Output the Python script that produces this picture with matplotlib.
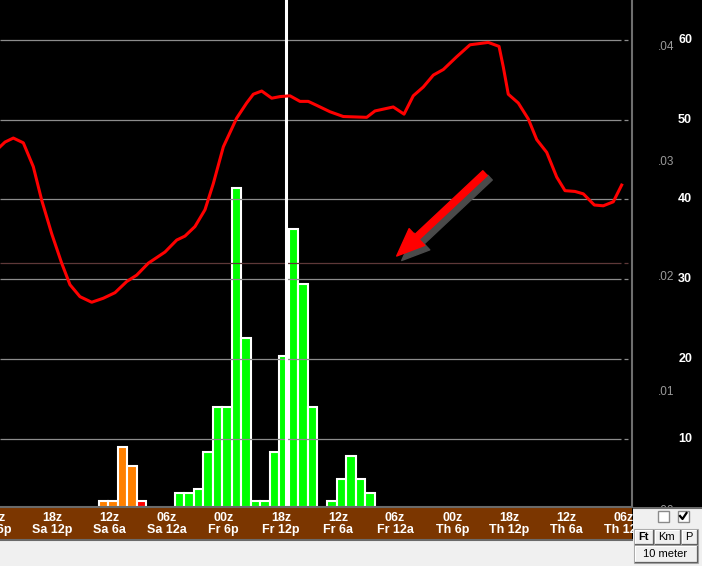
import matplotlib.pyplot as plt
import numpy as np
from matplotlib import transforms
from matplotlib.patches import Rectangle, FancyArrowPatch

# x is in hours counted from the left edge of the plot
line_hours = [0, 0.53, 1.40, 2.45, 3.50, 4.38, 5.43, 6.48, 7.35, 8.40,
              9.63, 10.85, 12.08, 13.31, 14.36, 15.58, 17.33, 18.56, 19.43, 20.48,
              21.53, 22.41, 23.46, 24.86, 25.91, 26.61, 27.49, 28.54, 29.41, 30.46,
              31.51, 32.38, 33.27, 34.66, 36.06, 38.52, 39.39, 41.31, 42.44, 43.41,
              44.46, 45.52, 46.57, 47.97, 49.37, 51.29, 52.42, 52.87, 53.39, 54.44,
              55.49, 56.38, 57.43, 58.48, 59.35, 60.40, 61.27, 62.43, 63.37, 64.42,
              65.30]
line_values = [46.6, 47.2, 47.7, 47.1, 44.1, 39.9, 35.7, 32.0, 29.3, 27.8,
               27.1, 27.6, 28.3, 29.7, 30.5, 32.0, 33.4, 34.9, 35.4, 36.6,
               38.7, 42.0, 46.6, 50.2, 52.1, 53.2, 53.6, 52.7, 52.9, 53.0,
               52.3, 52.3, 51.8, 51.0, 50.4, 50.3, 51.1, 51.6, 50.7, 53.0,
               54.1, 55.6, 56.3, 57.9, 59.4, 59.7, 59.2, 56.6, 53.2, 52.1,
               50.1, 47.5, 45.9, 42.8, 41.1, 41.0, 40.7, 39.3, 39.2, 39.7,
               41.8]

bar_start = 10.35
bar_values = [0.0005, 0.0005, 0.0052, 0.0036, 0.0005,
              0, 0, 0,
              0.0012, 0.0012, 0.0016, 0.0048, 0.0087, 0.0087, 0.0277, 0.0147,
              0.0005, 0.0005, 0.0048, 0.0131, 0.0242, 0.0194, 0.0087,
              0,
              0.0005, 0.0024, 0.0044, 0.0024, 0.0012]
bar_colors = ["#ff8000"] * 4 + ["#ff0000"] + ["#00ff00"] * 24

label_hours = [-0.5, 5.5, 11.5, 17.5, 23.5, 29.5, 35.5, 41.5, 47.5, 53.5, 59.5, 65.5]
zulu_labels = ["00z", "18z", "12z", "06z", "00z", "18z", "12z", "06z", "00z", "18z", "12z", "06z"]
local_labels = ["Sa 6p", "Sa 12p", "Sa 6a", "Sa 12a", "Fr 6p", "Fr 12p",
                "Fr 6a", "Fr 12a", "Th 6p", "Th 12p", "Th 6a", "Th 12a"]

snr_ticks = [10, 20, 30, 40, 50, 60]
prob_ticks = [0.00, 0.01, 0.02, 0.03, 0.04]
prob_labels = [".00", ".01", ".02", ".03", ".04"]
now_hour = 30.0
marker_level = 32.0
arrow_tail = (50.95, 43.3)
arrow_tip = (41.67, 32.9)

W, H = 702, 566
font = "Liberation Sans"

fig = plt.figure(figsize=(W / 100, H / 100), dpi=100, facecolor="black")

# bottom light strip
fig.patches.append(Rectangle((0, 0), 1, 26 / H, transform=fig.transFigure,
                             color="#f0f0f0", zorder=-1))

ax = fig.add_axes([0, 59 / H, 632 / W, 507 / H])
ax.set_facecolor("black")
xmax = 632 / 9.52
ax.set_xlim(0, xmax)
ax.set_ylim(0, 0.04409)

for i, (v, c) in enumerate(zip(bar_values, bar_colors)):
    if v > 0:
        ax.bar(bar_start + i, v, width=1.0, align="edge", color=c,
               edgecolor="white", linewidth=1.5, zorder=1)

ax2 = ax.twinx()
ax2.set_xlim(0, xmax)
ax2.set_ylim(1.41, 65.02)
ax2.patch.set_visible(False)

grid_end = 621 / 9.52
ax2.hlines(snr_ticks, 0, grid_end, color="#8c8c8c", linewidth=0.9, zorder=1)
ax2.hlines(snr_ticks, 65.5, 65.95, color="#8c8c8c", linewidth=0.9, zorder=1)
ax2.hlines([marker_level], 0, grid_end, color="#5e3838", linewidth=0.9, zorder=1)
ax2.hlines([marker_level], 65.5, 65.95, color="#5e3838", linewidth=0.9, zorder=1)

ax2.axvline(now_hour, color="white", linewidth=2.2, zorder=2)
ax2.plot(line_hours, line_values, color="#ff0000", linewidth=2.2, zorder=3)

shadow = transforms.ScaledTranslation(0.05, -0.045, fig.dpi_scale_trans)
style = "simple,head_length=2.0,head_width=1.65,tail_width=0.47"
ax2.add_patch(FancyArrowPatch(arrow_tail, arrow_tip, arrowstyle=style, mutation_scale=10,
                              color="#4a4a4a", shrinkA=0, shrinkB=0,
                              transform=ax2.transData + shadow, zorder=4))
ax2.add_patch(FancyArrowPatch(arrow_tail, arrow_tip, arrowstyle=style, mutation_scale=10,
                              color="#ff0000", shrinkA=0, shrinkB=0, zorder=5))

for a in (ax, ax2):
    a.tick_params(left=False, right=False, bottom=False, top=False,
                  labelleft=False, labelright=False, labelbottom=False)
    for s in a.spines.values():
        s.set_visible(False)
ax2.spines["right"].set_visible(True)
ax2.spines["right"].set_color("#6e6e6e")
ax2.spines["right"].set_linewidth(1.5)

# right-hand scales
tr2 = transforms.blended_transform_factory(ax2.transAxes, ax2.transData)
for v in snr_ticks:
    ax2.text(692 / 632, v, str(v), transform=tr2, ha="right", va="center",
             color="white", fontsize=9, fontweight="bold", family=font, clip_on=False)
tr1 = transforms.blended_transform_factory(ax.transAxes, ax.transData)
for v, lab in zip(prob_ticks, prob_labels):
    ax.text(674 / 632, v - 0.00035 * (v == 0), lab, transform=tr1, ha="right", va="center",
            color="#9a9a9a", fontsize=8.5, family=font, clip_on=False)

# time band
band = fig.add_axes([0, 26 / H, 632 / W, 33 / H])
band.set_facecolor("#7b3600")
band.set_xlim(0, xmax)
band.set_ylim(0, 1)
band.set_xticks([])
band.set_yticks([])
for s in ["left", "right"]:
    band.spines[s].set_visible(False)
for s in ["top", "bottom"]:
    band.spines[s].set_color("#6a6a6a")
    band.spines[s].set_linewidth(1.5)
for h, z, loc in zip(label_hours, zulu_labels, local_labels):
    band.text(h, 0.67, z, ha="center", va="center", color="white",
              fontsize=9, fontweight="bold", family=font)
    band.text(h, 0.29, loc, ha="center", va="center", color="white",
              fontsize=9, fontweight="bold", family=font)

# control panel in the bottom-right corner
ui = fig.add_axes([633 / W, 0, 69 / W, 59 / H], zorder=10)
ui.set_facecolor("#f0f0f0")
ui.set_xlim(633, 702)
ui.set_ylim(566, 507)
ui.set_xticks([])
ui.set_yticks([])
for s in ui.spines.values():
    s.set_visible(False)
ui.axhline(507.5, color="#6a6a6a", linewidth=1.5)


def button(x0, y0, x1, y1, text, bold=False):
    ui.add_patch(Rectangle((x0, y0), x1 - x0, y1 - y0, facecolor="#f0f0f0",
                           edgecolor="#a8a8a8", linewidth=0.8))
    ui.plot([x0 + 1, x0 + 1, x1 - 1], [y1 - 1, y0 + 1, y0 + 1], color="white", linewidth=0.8)
    ui.plot([x0 + 1, x1 - 0.5, x1 - 0.5], [y1 - 0.5, y1 - 0.5, y0 + 1], color="#606060", linewidth=0.9)
    ui.text((x0 + x1) / 2, (y0 + y1) / 2 + 0.3, text, ha="center", va="center",
            fontsize=8, family=font, fontweight="bold" if bold else "normal", color="black")


for x0 in (657.5, 677.5):
    ui.add_patch(Rectangle((x0, 511), 11, 11, facecolor="white", edgecolor="#8a8a8a", linewidth=1))
ui.plot([680, 682.5, 686.5], [516, 519, 513], color="black", linewidth=1.6)

button(633.5, 528.5, 653, 544.5, "Ft", bold=True)
button(653.5, 528.5, 680, 544.5, "Km")
button(680.5, 528.5, 697.5, 544.5, "P")
button(633.5, 545, 697.5, 562.5, "10 meter")

fig.savefig("out.png", dpi=100, facecolor=fig.get_facecolor())
